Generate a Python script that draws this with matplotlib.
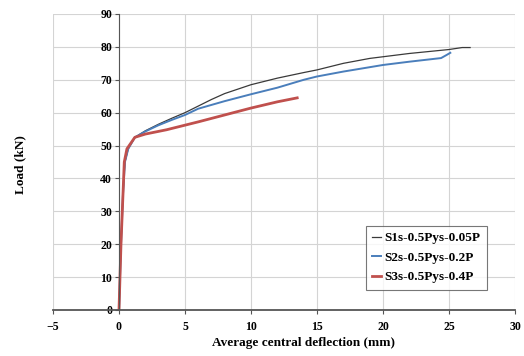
import matplotlib
matplotlib.use('Agg')
import matplotlib.pyplot as plt

# load-deflection data
s1_x = [0, 0.15, 0.3, 0.45, 0.7, 1.2, 2, 3, 4, 5, 6, 7, 8, 10, 12, 14, 15, 17, 19, 20, 22, 24, 25, 26, 26.6]
s1_y = [0, 20, 35, 45, 49, 52.5, 54.5, 56.5, 58.3, 60, 62, 64, 65.8, 68.5, 70.5, 72.2, 73, 75, 76.5, 77, 78, 78.8, 79.2, 79.8, 79.8]

s2_x = [0, 0.15, 0.3, 0.45, 0.7, 1.2, 2, 3, 4, 5, 6, 8, 10, 12, 14, 15, 17, 20, 22, 24.4, 24.8, 25.1]
s2_y = [0, 20, 35, 45, 49, 52.5, 54.3, 56.2, 57.8, 59.3, 61.2, 63.5, 65.6, 67.6, 70, 71, 72.5, 74.5, 75.5, 76.6, 77.5, 78.2]

s3_x = [0, 0.15, 0.3, 0.4, 0.6, 1.2, 2, 3.6, 5, 6, 8, 10, 12, 13.5]
s3_y = [0, 20, 35, 45, 49, 52.5, 53.5, 54.8, 56.2, 57.2, 59.3, 61.4, 63.3, 64.5]

labels = ['S1s-0.5Pys-0.05P', 'S2s-0.5Pys-0.2P', 'S3s-0.5Pys-0.4P']
xticks = [-5, 0, 5, 10, 15, 20, 25, 30]
yticks = [0, 10, 20, 30, 40, 50, 60, 70, 80, 90]

plt.rcParams['font.family'] = 'Liberation Serif'
plt.rcParams['font.weight'] = 'bold'

fig = plt.figure(figsize=(5.24, 3.56), dpi=100)
ax = fig.add_axes([53/524, 46/356, 462/524, 296/356])

ax.plot(s1_x, s1_y, color='#3a3a3a', lw=0.9, label=labels[0])
ax.plot(s2_x, s2_y, color='#4a7ebb', lw=1.4, label=labels[1])
ax.plot(s3_x, s3_y, color='#c0504d', lw=2.0, label=labels[2])

ax.set_xlim(-5, 30)
ax.set_ylim(0, 90)
ax.set_xticks(xticks)
ax.set_yticks(yticks)
ax.grid(True, color='#d4d4d4', lw=0.8)
ax.set_axisbelow(True)

ax.spines['left'].set_position(('data', 0))
ax.spines['top'].set_visible(False)
ax.spines['right'].set_visible(False)
ax.spines['left'].set_color('#555555')
ax.spines['bottom'].set_color('#555555')
ax.spines['bottom'].set_linewidth(1.3)
ax.tick_params(axis='both', labelsize=8.5, length=3, color='#555555', pad=2)
ax.tick_params(axis='x', pad=5)
for t in ax.get_xticklabels() + ax.get_yticklabels():
    t.set_fontweight('bold')

ax.set_xlabel('Average central deflection (mm)', fontsize=9.5, fontweight='bold')
ax.xaxis.set_label_coords(0.543, -0.09)
ax.set_ylabel('Load (kN)', fontsize=9.5, fontweight='bold')
ax.yaxis.set_label_coords(-0.058, 0.49)

leg = ax.legend(loc='lower right', bbox_to_anchor=(0.953, 0.045), fontsize=9.5, frameon=True,
                fancybox=False, edgecolor='#555555', handlelength=0.7, handletextpad=0.2,
                borderpad=0.5, labelspacing=0.55)
leg.get_frame().set_linewidth(0.8)
for t in leg.get_texts():
    t.set_fontweight('bold')

fig.savefig('out.png', dpi=100)
